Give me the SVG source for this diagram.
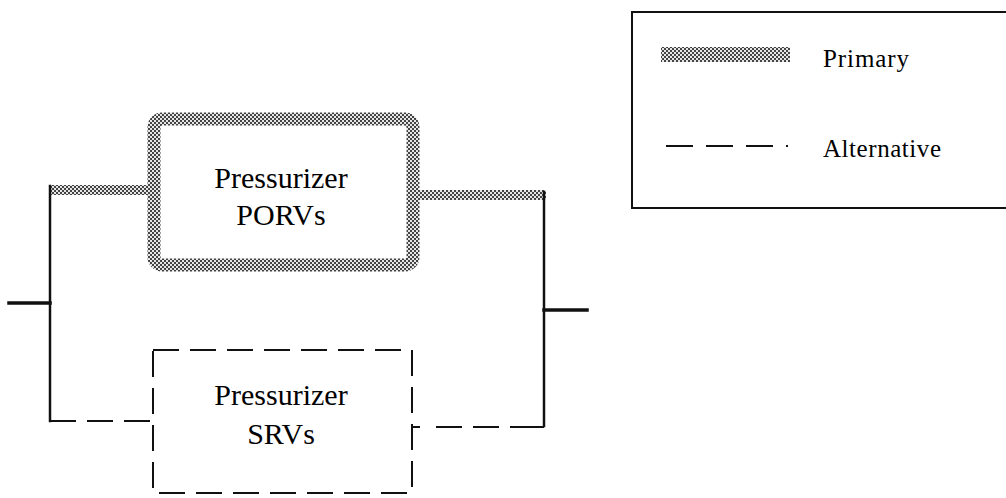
<svg xmlns="http://www.w3.org/2000/svg" width="1006" height="498" viewBox="0 0 1006 498">
<style>
.label{font-family:"Liberation Serif",serif;font-size:30px;fill:#000;text-anchor:middle}
.leg{font-family:"Liberation Serif",serif;font-size:25px;fill:#000}
.solid{stroke:#111;fill:none;stroke-linecap:square}
.dash{stroke:#111;fill:none;stroke-width:2;stroke-dasharray:26 11}
.prim{stroke:url(#hatch);fill:none}
</style>
<defs>
<pattern id="hatch" width="4" height="4" patternUnits="userSpaceOnUse">
<rect width="4" height="4" fill="#e6e6e6"/>
<rect x="0" y="0" width="2" height="2" fill="#444"/>
<rect x="2" y="2" width="2" height="2" fill="#444"/>
</pattern>
</defs>
<rect width="1006" height="498" fill="#fff"/>
<g id="connectors">
<line class="prim" x1="50" y1="190" x2="148" y2="190" stroke-width="10"/>
<line class="prim" x1="419" y1="195" x2="546" y2="195" stroke-width="10"/>
<line class="solid" x1="50" y1="186" x2="50" y2="421" stroke-width="2.5"/>
<line class="solid" x1="544" y1="192" x2="544" y2="426" stroke-width="2.5"/>
<line class="solid" x1="9" y1="303" x2="50" y2="303" stroke-width="3.5"/>
<line class="solid" x1="544" y1="310" x2="587" y2="310" stroke-width="3.5"/>
<line class="dash" x1="50" y1="421" x2="153" y2="421"/>
<line class="dash" x1="412" y1="427" x2="544" y2="427" style="stroke-dasharray:8 16 26 11 26 11 40"/>
</g>
<g id="node-porvs">
<rect x="154" y="119" width="259" height="146" rx="8" class="prim" stroke-width="13"/>
<text class="label" x="281" y="188">Pressurizer</text>
<text class="label" x="281" y="225">PORVs</text>
</g>
<g id="node-srvs">
<rect x="153" y="350" width="259" height="143" class="dash"/>
<text class="label" x="281" y="405">Pressurizer</text>
<text class="label" x="281" y="444">SRVs</text>
</g>
<g id="legend">
<rect x="632" y="12" width="400" height="196" fill="none" stroke="#111" stroke-width="2"/>
<rect x="661" y="47" width="129" height="15" fill="url(#hatch)"/>
<text class="leg" x="823" y="67" textLength="86" lengthAdjust="spacing">Primary</text>
<line class="dash" x1="666" y1="146" x2="788" y2="146" style="stroke-dasharray:27 13"/>
<text class="leg" x="823" y="157" textLength="118" lengthAdjust="spacing">Alternative</text>
</g>
</svg>
